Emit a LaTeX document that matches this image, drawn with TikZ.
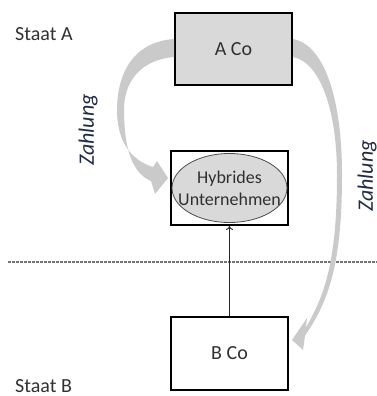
\documentclass[tikz,border=0pt]{standalone}
\usepackage{fontspec}
\setmainfont{Carlito}
\usetikzlibrary{arrows.meta,shapes.geometric}
\definecolor{boxgray}{HTML}{D9D9D9}
\definecolor{arrowgray}{HTML}{CACACA}
\definecolor{txt}{HTML}{303030}
\definecolor{paytxt}{HTML}{1F2A4A}
\tikzset{
  every node/.style={text=txt, font=\fontsize{20}{23}\selectfont},
  entity/.style={draw=black, line width=2pt, minimum width=117pt, minimum height=72pt, inner sep=0pt},
  statelabel/.style={anchor=base west, inner sep=0pt},
  paylabel/.style={rotate=90, text=paytxt, font=\fontsize{22}{24}\selectfont\itshape, inner sep=0pt},
  bigarrow/.style={fill=arrowgray, draw=none},
  sepline/.style={draw=black!55, line width=1.4pt, dash pattern=on 3pt off 1pt},
  link/.style={draw=black!85, line width=0.9pt, -{To[length=4pt,width=7pt]}}
}
\begin{document}
\begin{tikzpicture}[x=1pt,y=-1pt]
\useasboundingbox (0,0) rectangle (377,396);
% boxes
\node[entity, fill=boxgray] (aco) at (233.5,49) {A Co};
\node[entity, fill=white, minimum height=74pt] (hyb) at (229.5,188) {};
\node[draw=black!70, line width=0.8pt, fill=boxgray, ellipse, minimum width=115pt, minimum height=69pt, inner sep=0pt] (hybe) at (229.5,188) {};
\node[align=center, inner sep=0pt, font=\fontsize{18}{22}\selectfont] (hybt) at (hybe.center) {Hybrides\\Unternehmen};
\node[entity, fill=white, minimum height=73pt] (bco) at (229.5,353.5) {B Co};
% state labels
\node[statelabel] (sa) at (15,41) {Staat A};
\node[statelabel] (sb) at (15,392.5) {Staat B};
% separator
\coordinate (l1) at (8,262);
\coordinate (l2) at (377,262);
\draw[sepline] (l1) -- (l2);
% link B Co -> hybrid
\draw[link] (bco.north) -- (hyb.south);
% left curved arrow
\fill[bigarrow] (aco.west |- 0,39) .. controls (132,42) and (117,75) .. (117,110)
  .. controls (117,140) and (130,160) .. (153,167)
  -- (157,161) -- (168,178) -- (155,194) -- (151,181)
  .. controls (129,172) and (124,140) .. (124,110)
  .. controls (124,82) and (140,60) .. (aco.west |- 0,57) -- cycle;
% right curved arrow
\fill[bigarrow] (aco.east |- 0,39) .. controls (325,45) and (342,100) .. (342,175)
  .. controls (342,260) and (330,300) .. (305,335.6)
  -- (303,350) -- (292,340) -- (307,318) -- (305.8,327.6)
  .. controls (325,295) and (337,260) .. (337,175)
  .. controls (337,110) and (320,62) .. (aco.east |- 0,57) -- cycle;
% payment labels
\node[paylabel] (z1) at (88,130) {Zahlung};
\node[paylabel] (z2) at (367,176) {Zahlung};
\end{tikzpicture}
\end{document}
